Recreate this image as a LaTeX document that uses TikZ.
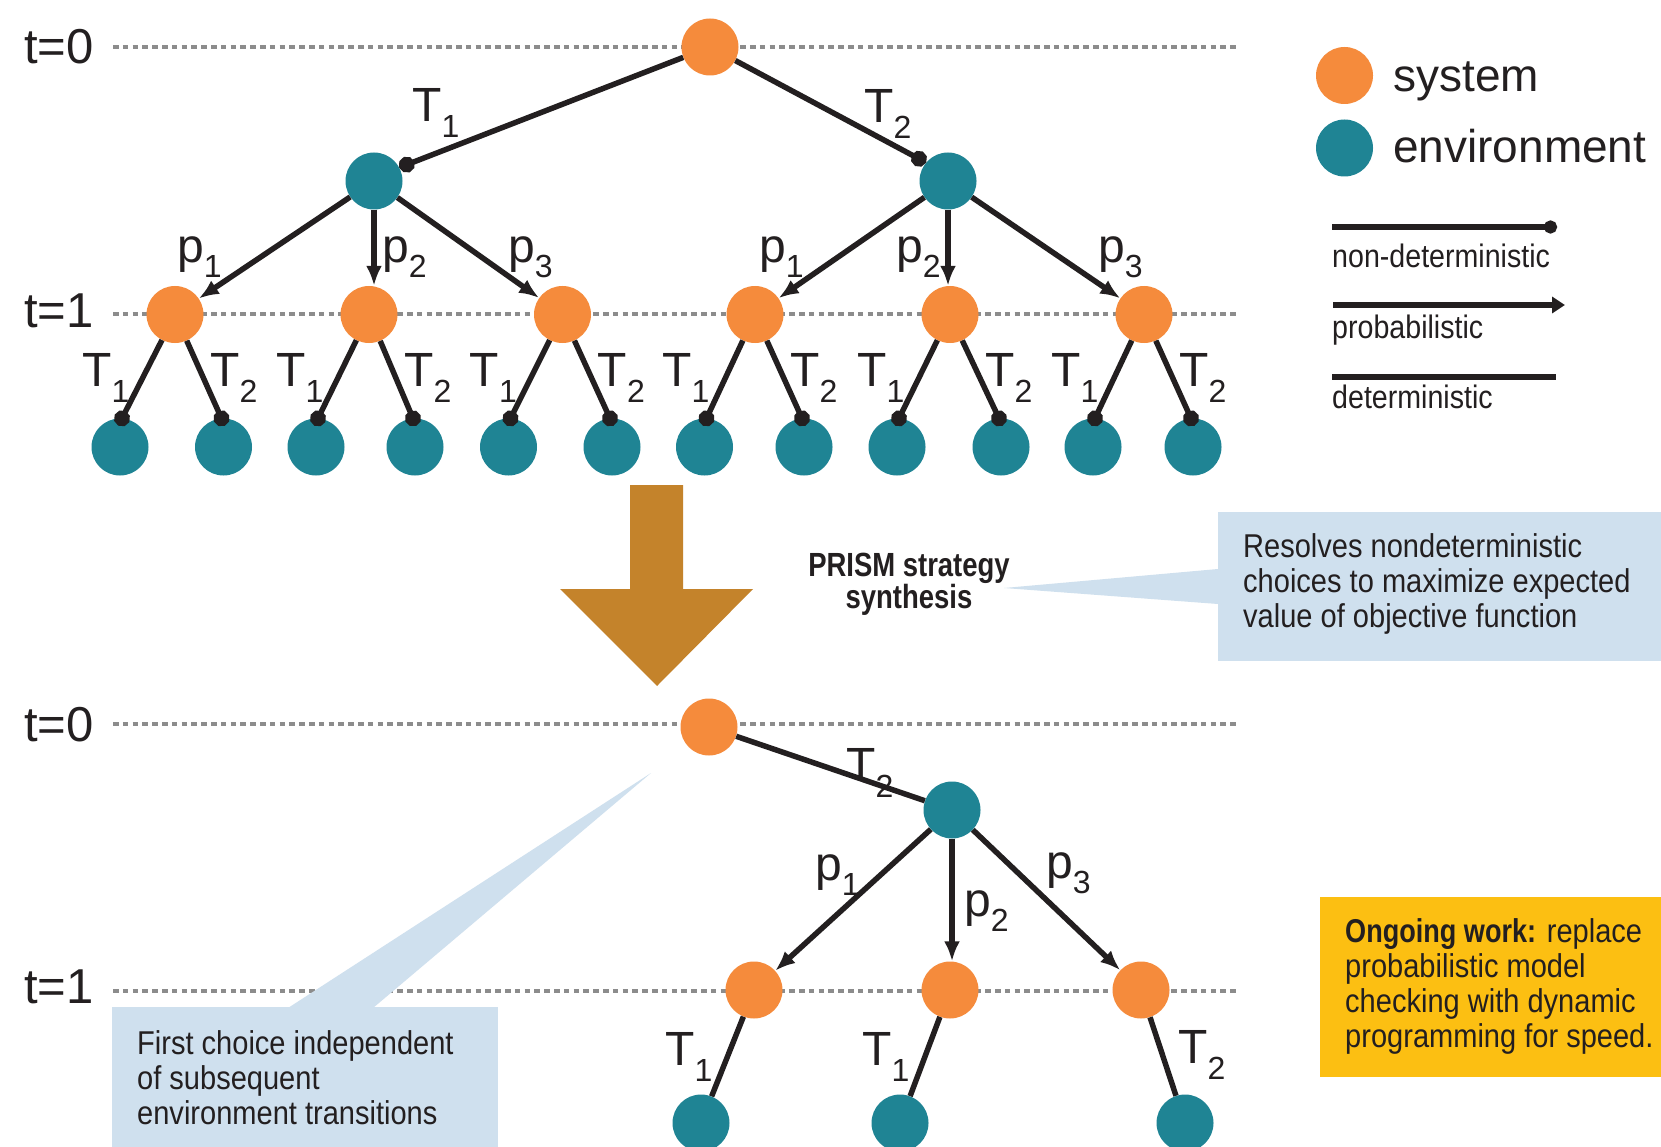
\documentclass[tikz,border=0pt]{standalone}
\usepackage{fontspec}
\setmainfont{Liberation Sans}
\newfontfamily\ngf[FakeStretch=0.88]{Liberation Sans}
\newfontfamily\ngfb[FakeStretch=0.82]{Liberation Sans}
\usetikzlibrary{arrows.meta}
\definecolor{sysc}{RGB}{245,139,60}
\definecolor{envc}{RGB}{31,132,148}
\definecolor{ink}{RGB}{35,31,32}
\definecolor{dotc}{RGB}{140,140,140}
\definecolor{arrc}{RGB}{196,131,43}
\definecolor{calc}{RGB}{207,224,238}
\definecolor{yelc}{RGB}{252,191,18}
\newcommand\lbf{\fontsize{48}{48}\selectfont}
\newcommand\tbf{\fontsize{49}{49}\selectfont}
\newcommand\gbf{\fontsize{46}{46}\selectfont}
\newcommand\sbf{\ngf\fontsize{32.5}{35}\selectfont}
\newcommand\bxf{\ngf\fontsize{33}{35}\selectfont}
\newcommand\Tl[1]{T\raisebox{-16pt}{\fontsize{32}{32}\selectfont #1}}
\newcommand\Pl[1]{p\raisebox{-15pt}{\fontsize{32}{32}\selectfont #1}}
\begin{document}
\begin{tikzpicture}[x=1pt,y=-1pt,
  sys/.style={circle,fill=sysc,minimum size=57pt,inner sep=0pt},
  env/.style={circle,fill=envc,minimum size=57pt,inner sep=0pt},
  nd/.style={draw=ink,line width=5.5pt,-{Circle[length=16pt]}},
  pr/.style={draw=ink,line width=5.5pt,-{Latex[length=20pt,width=16pt]}},
  de/.style={draw=ink,line width=5.5pt},
  tline/.style={draw=dotc,line width=3.2pt,dash pattern=on 5.5pt off 4.3pt},
  lab/.style={anchor=base west,inner sep=0pt,text=ink,font=\lbf},
  tlab/.style={anchor=base west,inner sep=0pt,text=ink,font=\tbf},
  glab/.style={anchor=base west,inner sep=0pt,text=ink,font=\gbf},
  small/.style={anchor=base west,inner sep=0pt,text=ink,font=\sbf},
  boxtext/.style={anchor=north west,inner sep=0pt,text=ink,align=left,font=\bxf}]
\useasboundingbox (0,0) rectangle (1661,1147);
\clip (0,0) rectangle (1661,1147);
\fill[white] (0,0) rectangle (1661,1147);

% time lines
\draw[tline] (113,47) -- (1237,47);
\draw[tline] (113,314) -- (1237,314);
\draw[tline] (113,724) -- (1237,724);
\draw[tline] (113,991) -- (1237,991);
\node[tlab] (t0a) at (24,64) {t=0};
\node[tlab] (t1a) at (24,327) {t=1};
\node[tlab] (t0b) at (24,741) {t=0};
\node[tlab] (t1b) at (24,1003) {t=1};

% callouts
\fill[calc] (1218,512) rectangle (1661,661);
\fill[calc] (1218,569) -- (1004,588) -- (1218,604) -- cycle;
\fill[calc] (112,1007) rectangle (498,1160);
\fill[calc] (288,1008) -- (651,773) -- (373,1008) -- cycle;
\fill[yelc] (1320,897) rectangle (1661,1077);
\node[boxtext] (c1) at (1243,532) {\rule{0pt}{25pt}Resolves nondeterministic\\choices to maximize expected\\value of objective function};
\node[boxtext] (c2) at (137,1029) {\rule{0pt}{25pt}First choice independent\\of subsequent\\environment transitions};
\node[boxtext] (c3) at (1345,917) {\rule{0pt}{25pt}{\ngfb\bfseries Ongoing work:} replace\\probabilistic model\\checking with dynamic\\programming for speed.};
\node[anchor=north,inner sep=0pt,text=ink,align=center,font=\ngfb\fontsize{33.5}{31}\selectfont\bfseries] (prism) at (909,551) {\rule{0pt}{25pt}PRISM strategy\\synthesis};

% big arrow
\fill[arrc] (630,485) -- (683,485) -- (683,589) -- (753,589) -- (657,686) -- (560,589) -- (630,589) -- cycle;

% top tree nodes
\node[sys] (root) at (710,47) {};
\node[env] (e1) at (374,181) {};
\node[env] (e2) at (948,181) {};
\foreach \i/\x in {1/175,2/369,3/562.5,4/755,5/950,6/1144}
  \node[sys] (o\i) at (\x,314.5) {};
\foreach \i/\x in {1/120,2/223.5,3/316,4/415,5/508.5,6/612,7/704.5,8/804,9/897,10/1001,11/1093,12/1193}
  \node[env] (l\i) at (\x,447) {};

% top tree edges
\draw[nd] (root) -- (e1.28);
\draw[nd] (root) -- (e2.140);
\draw[pr] (e1) -- (o1);
\draw[pr] (e1.south) -- (e1.south |- o2.north);
\draw[pr] (e1) -- (o3);
\draw[pr] (e2) -- (o4);
\draw[pr] (e2.south) -- (e2.south |- o5.north);
\draw[pr] (e2) -- (o6);
\foreach \i/\a/\b in {1/1/2,2/3/4,3/5/6,4/7/8,5/9/10,6/11/12}{
  \draw[nd,shorten >=-8pt] (o\i) -- (l\a.86);
  \draw[nd,shorten >=-8pt] (o\i) -- (l\b.94);
}

% top tree labels
\node[lab] (lt1) at (412,122) {\Tl{1}};
\node[lab] (lt2) at (864,123) {\Tl{2}};
\node[lab] (lp1) at (177,263) {\Pl{1}};
\node[lab] (lp2) at (382,263) {\Pl{2}};
\node[lab] (lp3) at (508,263) {\Pl{3}};
\node[lab] (lp4) at (759,263) {\Pl{1}};
\node[lab] (lp5) at (896,263) {\Pl{2}};
\node[lab] (lp6) at (1098,263) {\Pl{3}};
\foreach \i/\x in {1/175,2/369,3/562.5,4/755,5/950,6/1144}{
  \node[lab] (ta\i) at ({\x-93},386) {\Tl{1}};
  \node[lab] (tb\i) at ({\x+35},386) {\Tl{2}};
}

% bottom tree
\node[sys] (root2) at (709,727) {};
\node[env] (e3) at (952,810) {};
\node[sys] (o7) at (754,990) {};
\node[sys] (o8) at (950,990) {};
\node[sys] (o9) at (1141,990) {};
\node[env] (l13) at (701,1123) {};
\node[env] (l14) at (900,1123) {};
\node[env] (l15) at (1185,1123) {};
\draw[de] (root2) -- (e3);
\draw[pr] (e3) -- (o7);
\draw[pr] (e3.south) -- (e3.south |- o8.north);
\draw[pr] (e3) -- (o9);
\draw[de] (o7) -- (l13);
\draw[de] (o8) -- (l14);
\draw[de] (o9) -- (l15);
\node[lab] (bt) at (846,781) {\Tl{2}};
\node[lab] (bp1) at (815,880) {\Pl{1}};
\node[lab] (bp2) at (964,916) {\Pl{2}};
\node[lab] (bp3) at (1046,878) {\Pl{3}};
\node[lab] (bt1) at (665,1065) {\Tl{1}};
\node[lab] (bt2) at (862,1065) {\Tl{1}};
\node[lab] (bt3) at (1178,1063) {\Tl{2}};

% legend
\node[sys] (ls) at (1344.5,75.5) {};
\node[env] (le) at (1344.5,148) {};
\node[glab] (lsys) at (1393,92) {system};
\node[glab] (lenv) at (1393,163) {environment};
\coordinate (na) at (1332,227);
\coordinate (nb) at (1557,227);
\coordinate (pa) at (1333,305);
\coordinate (pb) at (1565,305);
\coordinate (da) at (1332,377);
\coordinate (db) at (1556,377);
\draw[nd,-{Circle[length=13pt]}] (na) -- (nb);
\draw[pr,-{Triangle[length=13pt,width=16pt]}] (pa) -- (pb);
\draw[de] (da) -- (db);
\node[small] (lnd) at (1332,268) {non-deterministic};
\node[small] (lpr) at (1332,338) {probabilistic};
\node[small] (lde) at (1332,408) {deterministic};
\end{tikzpicture}
\end{document}
